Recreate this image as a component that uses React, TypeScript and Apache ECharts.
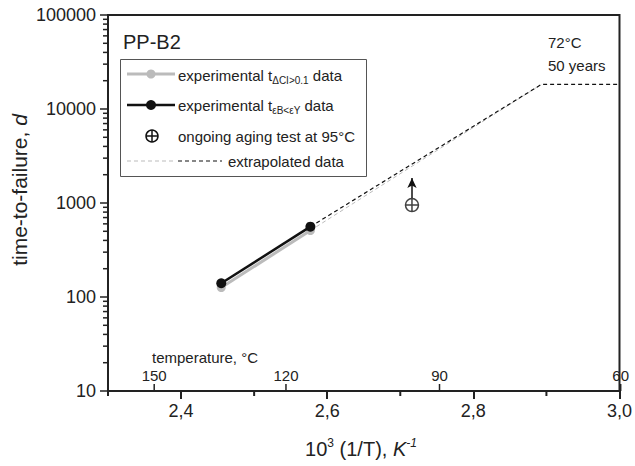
import React, { useEffect, useRef } from "react";
import * as echarts from "echarts";

const FONT = '"Liberation Sans", Arial, Helvetica, sans-serif';
const INK = "#222";

// experimental data (x = 10^3/T, y = time-to-failure in days)
const xExp = [2.455, 2.577];
const tCI = [126, 510];
const tEps = [140, 560];
// ongoing test at 95 °C
const ongoingX = [2.716];
const ongoingY = [950];
const arrowY = [1130, 1850];
// extrapolation
const extrapBlackX = [2.577, 2.893, 3.0];
const extrapBlackY = [560, 18250, 18250];
const extrapGrayX = [2.577, 2.893];
const extrapGrayY = [510, 18250];
// axis ticks
const xMajorTicks = [2.4, 2.6, 2.8, 3.0];
const xMinorTicks = [2.3, 2.5, 2.7, 2.9];
const tempTicks = [150, 120, 90, 60];
const yMinorTicks = [
  20, 30, 40, 50, 60, 70, 80, 90,
  200, 300, 400, 500, 600, 700, 800, 900,
  2000, 3000, 4000, 5000, 6000, 7000, 8000, 9000,
  20000, 30000, 40000, 50000, 60000, 70000, 80000, 90000,
];

const X_MIN = 2.3;
const X_MAX = 3.0;
const Y_MIN = 10;

const crossCircle =
  "path://M10,0 A10,10 0 1,1 10,20 A10,10 0 1,1 10,0 Z M0,10 L20,10 M10,0 L10,20";

export default function App() {
  const ref = useRef<HTMLDivElement>(null);
  useEffect(() => {
    if (!ref.current) return;
    const chart = echarts.init(ref.current, null, { renderer: "svg" });
    const zip = (xs: number[], ys: number[]) => xs.map((x, i) => [x, ys[i]]);

    const option: any = {
      animation: false,
      backgroundColor: "#fff",
      grid: {
        left: 108,
        right: 13,
        top: 15,
        bottom: 75,
        show: true,
        borderColor: INK,
        borderWidth: 2,
        backgroundColor: "transparent",
      },
      xAxis: {
        type: "value",
        min: X_MIN,
        max: X_MAX,
        interval: 0.1,
        axisLine: { show: true, lineStyle: { color: INK, width: 2 } },
        axisTick: {
          show: true,
          customValues: xMajorTicks,
          length: 8,
          lineStyle: { color: INK, width: 2 },
        },
        axisLabel: {
          customValues: xMajorTicks,
          formatter: (v: number) => v.toFixed(1).replace(".", ","),
          fontSize: 18,
          fontFamily: FONT,
          color: INK,
          margin: 11,
        },
        splitLine: { show: false },
      },
      yAxis: {
        type: "log",
        logBase: 10,
        min: 10,
        max: 100000,
        axisLine: { show: true, lineStyle: { color: INK, width: 2 } },
        axisTick: { show: true, length: 8, lineStyle: { color: INK, width: 1.5 } },
        axisLabel: {
          fontSize: 18,
          fontFamily: FONT,
          color: INK,
          margin: 12,
          formatter: (v: number) => String(Math.round(v)),
        },
        splitLine: { show: false },
      },
      series: [
        {
          type: "line",
          data: zip(extrapGrayX, extrapGrayY),
          symbol: "none",
          lineStyle: { color: "#bbb", width: 1, type: [4, 3] },
          z: 2,
        },
        {
          type: "line",
          data: zip(extrapBlackX, extrapBlackY),
          symbol: "none",
          lineStyle: { color: "#111", width: 1.2, type: [4, 3] },
          z: 3,
        },
        {
          type: "line",
          data: zip(xExp, tCI),
          symbol: "circle",
          symbolSize: 9,
          itemStyle: { color: "#bbb" },
          lineStyle: { color: "#bbb", width: 3 },
          z: 4,
        },
        {
          type: "line",
          data: zip(xExp, tEps),
          symbol: "circle",
          symbolSize: 10,
          itemStyle: { color: "#111" },
          lineStyle: { color: "#111", width: 2.5 },
          z: 5,
        },
        {
          type: "scatter",
          data: zip(ongoingX, ongoingY),
          symbol: crossCircle,
          symbolSize: 13,
          itemStyle: { color: "rgba(0,0,0,0)", borderColor: "#111", borderWidth: 1.5 },
          z: 5,
          markLine: {
            silent: true,
            symbol: ["none", "arrow"],
            symbolSize: [7, 10],
            label: { show: false },
            lineStyle: { color: "#111", width: 1.5, type: "solid" },
            data: [
              [
                { coord: [ongoingX[0], arrowY[0]] },
                { coord: [ongoingX[0], arrowY[1]] },
              ],
            ],
          },
        },
        {
          // y minor ticks
          type: "custom",
          silent: true,
          clip: false,
          data: yMinorTicks.map((v) => [X_MIN, v]),
          renderItem: (_p: any, api: any) => {
            const p = api.coord([api.value(0), api.value(1)]);
            return {
              type: "line",
              shape: { x1: p[0] - 5, y1: p[1], x2: p[0], y2: p[1] },
              style: { stroke: INK, lineWidth: 1.5 },
            };
          },
          z: 6,
        },
        {
          // x minor ticks
          type: "custom",
          silent: true,
          clip: false,
          data: xMinorTicks.map((v) => [v, Y_MIN]),
          renderItem: (_p: any, api: any) => {
            const p = api.coord([api.value(0), api.value(1)]);
            return {
              type: "line",
              shape: { x1: p[0], y1: p[1], x2: p[0], y2: p[1] + 5 },
              style: { stroke: INK, lineWidth: 2 },
            };
          },
          z: 6,
        },
        {
          // temperature scale
          type: "custom",
          silent: true,
          clip: false,
          data: tempTicks.map((t) => [1000 / (t + 273.15), Y_MIN, t]),
          renderItem: (_p: any, api: any) => {
            const p = api.coord([api.value(0), api.value(1)]);
            return {
              type: "group",
              children: [
                {
                  type: "line",
                  shape: { x1: p[0], y1: p[1], x2: p[0], y2: p[1] - 7 },
                  style: { stroke: INK, lineWidth: 1.5 },
                },
                {
                  type: "text",
                  x: p[0],
                  y: p[1] - 8,
                  style: {
                    text: String(api.value(2)),
                    fontSize: 15,
                    fontFamily: FONT,
                    fill: INK,
                    align: "center",
                    verticalAlign: "bottom",
                  },
                },
              ],
            };
          },
          z: 6,
        },
      ],
      graphic: [
        {
          type: "text",
          x: 123,
          y: 42,
          style: { text: "PP-B2", fontSize: 20, fontFamily: FONT, fill: INK, verticalAlign: "middle" },
        },
        {
          type: "rect",
          shape: { x: 120.5, y: 59.5, width: 246, height: 117 },
          style: { fill: "#fff", stroke: "#555", lineWidth: 1 },
          z: 10,
        },
        {
          type: "line",
          shape: { x1: 127, y1: 74, x2: 175, y2: 74 },
          style: { stroke: "#bbb", lineWidth: 3 },
          z: 11,
        },
        { type: "circle", shape: { cx: 151, cy: 74, r: 4.5 }, style: { fill: "#bbb" }, z: 11 },
        {
          type: "text",
          x: 178,
          y: 75,
          z: 11,
          style: {
            text: "experimental t{sub|ΔCI>0.1} data",
            fontSize: 15,
            fontFamily: FONT,
            fill: INK,
            lineHeight: 20,
            verticalAlign: "middle",
            rich: { sub: { fontSize: 10, fontFamily: FONT, fill: INK, lineHeight: 8, verticalAlign: "bottom" } },
          },
        },
        {
          type: "line",
          shape: { x1: 127, y1: 105, x2: 175, y2: 105 },
          style: { stroke: "#111", lineWidth: 2.5 },
          z: 11,
        },
        { type: "circle", shape: { cx: 151, cy: 105, r: 5 }, style: { fill: "#111" }, z: 11 },
        {
          type: "text",
          x: 178,
          y: 105,
          z: 11,
          style: {
            text: "experimental t{sub|εB<εY} data",
            fontSize: 15,
            fontFamily: FONT,
            fill: INK,
            lineHeight: 20,
            verticalAlign: "middle",
            rich: { sub: { fontSize: 10, fontFamily: FONT, fill: INK, lineHeight: 8, verticalAlign: "bottom" } },
          },
        },
        { type: "circle", shape: { cx: 152, cy: 136, r: 6 }, style: { fill: "none", stroke: "#111", lineWidth: 1.5 }, z: 11 },
        { type: "line", shape: { x1: 146, y1: 136, x2: 158, y2: 136 }, style: { stroke: "#111", lineWidth: 1.5 }, z: 11 },
        { type: "line", shape: { x1: 152, y1: 130, x2: 152, y2: 142 }, style: { stroke: "#111", lineWidth: 1.5 }, z: 11 },
        {
          type: "text",
          x: 178,
          y: 136,
          z: 11,
          style: { text: "ongoing aging test at 95°C", fontSize: 15, fontFamily: FONT, fill: INK, verticalAlign: "middle" },
        },
        {
          type: "line",
          shape: { x1: 127, y1: 161, x2: 176, y2: 161 },
          style: { stroke: "#bbb", lineWidth: 1, lineDash: [4, 3] },
          z: 11,
        },
        {
          type: "line",
          shape: { x1: 178, y1: 161, x2: 222, y2: 161 },
          style: { stroke: "#111", lineWidth: 1.2, lineDash: [4, 3] },
          z: 11,
        },
        {
          type: "text",
          x: 228,
          y: 161,
          z: 11,
          style: { text: "extrapolated data", fontSize: 15, fontFamily: FONT, fill: INK, verticalAlign: "middle" },
        },
        {
          type: "text",
          x: 548,
          y: 42,
          style: { text: "72°C", fontSize: 15, fontFamily: FONT, fill: INK, verticalAlign: "middle" },
        },
        {
          type: "text",
          x: 548,
          y: 65,
          style: { text: "50 years", fontSize: 15, fontFamily: FONT, fill: INK, verticalAlign: "middle" },
        },
        {
          type: "text",
          x: 152,
          y: 357,
          style: { text: "temperature, °C", fontSize: 15, fontFamily: FONT, fill: INK, verticalAlign: "middle" },
        },
        {
          type: "text",
          x: 19,
          y: 190,
          rotation: Math.PI / 2,
          style: {
            text: "time-to-failure, {it|d}",
            fontSize: 21,
            fontFamily: FONT,
            fill: INK,
            align: "center",
            verticalAlign: "middle",
            rich: { it: { fontSize: 21, fontFamily: FONT, fontStyle: "italic", fill: INK } },
          },
        },
        {
          type: "text",
          x: 361,
          y: 449,
          style: {
            text: "10{sup|3} (1/T), {it|K}{supi|-1}",
            fontSize: 20,
            fontFamily: FONT,
            fill: INK,
            align: "center",
            verticalAlign: "middle",
            lineHeight: 24,
            rich: {
              sup: { fontSize: 12, fontFamily: FONT, fill: INK, lineHeight: 10, verticalAlign: "top" },
              it: { fontSize: 20, fontFamily: FONT, fontStyle: "italic", fill: INK, lineHeight: 24 },
              supi: { fontSize: 12, fontFamily: FONT, fontStyle: "italic", fill: INK, lineHeight: 10, verticalAlign: "top" },
            },
          },
        },
      ],
    };
    chart.setOption(option);
    return () => chart.dispose();
  }, []);
  return <div ref={ref} style={{ width: 635, height: 466, position: "absolute", left: 0, top: 0 }} />;
}
